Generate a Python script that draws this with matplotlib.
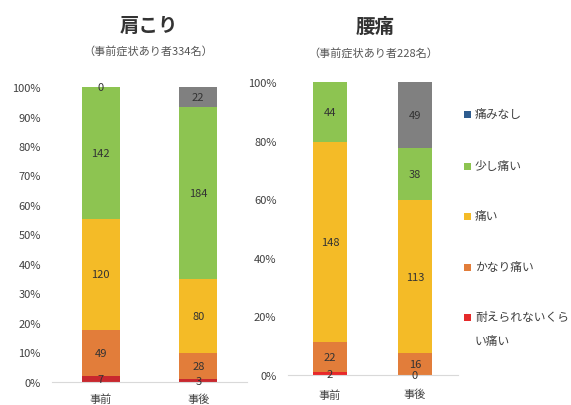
import matplotlib
matplotlib.use("Agg")
import matplotlib.pyplot as plt
from matplotlib.patches import Rectangle
import numpy as np

plt.rcParams['font.family'] = ['Noto Sans CJK JP', 'DejaVu Sans']

# Pain levels, bottom to top of each stacked bar
levels = ['耐えられないくらい痛い', 'かなり痛い', '痛い', '少し痛い', '痛みなし']
timing = ['事前', '事後']

# Shoulder stiffness counts (事前, 事後) per level
katakori = {
    '耐えられないくらい痛い': [7, 3],
    'かなり痛い': [49, 28],
    '痛い': [120, 80],
    '少し痛い': [142, 184],
    '痛みなし': [0, 22],
}
# Lower back pain counts (事前, 事後) per level
youtsuu = {
    '耐えられないくらい痛い': [2, 0],
    'かなり痛い': [22, 16],
    '痛い': [148, 113],
    '少し痛い': [44, 38],
    '痛みなし': [0, 49],
}
youtsuu_hidden = {('痛みなし', 0)}  # zero segment left unlabeled

titles = ['肩こり', '腰痛']
subtitles = ['（事前症状あり者334名）', '（事前症状あり者228名）']

bar_colors = {
    '耐えられないくらい痛い': '#E8282A',
    'かなり痛い': '#E27D3A',
    '痛い': '#F4BB27',
    '少し痛い': '#8DC451',
    '痛みなし': '#808080',
}
legend_colors = {
    '痛みなし': '#2E5C8F',
    '少し痛い': '#8DC451',
    '痛い': '#F4BB27',
    'かなり痛い': '#E27D3A',
    '耐えられないくらい痛い': '#E52A2A',
}

W, H = 571, 406
fig = plt.figure(figsize=(W / 100, H / 100), dpi=100)


def px_axes(x0, x1, y0, y1):
    return fig.add_axes([x0 / W, 1 - y0 / H, (x1 - x0) / W, (y0 - y1) / H])


def draw_stack(ax, data, width, yticks, red, hidden=(), xpad=10):
    x = np.arange(len(timing))
    totals = np.sum([data[l] for l in levels], axis=0).astype(float)
    bottom = np.zeros(len(timing))
    for lv in levels:
        vals = np.array(data[lv], dtype=float)
        frac = vals / totals
        col = red if lv == levels[0] else bar_colors[lv]
        bars = ax.bar(x, frac, width, bottom=bottom, color=col, linewidth=0)
        labels = ['' if (lv, i) in hidden else f'{int(v)}' for i, v in enumerate(vals)]
        ax.bar_label(bars, labels=labels, label_type='center', fontsize=8,
                     color='#333333')
        bottom += frac
    ax.set_xlim(-0.5, 1.5)
    ax.set_ylim(0, 1)
    ax.set_yticks(yticks)
    ax.set_yticklabels([f'{int(round(t * 100))}%' for t in yticks])
    ax.set_xticks(x)
    ax.set_xticklabels(timing)
    for s in ['top', 'right', 'left']:
        ax.spines[s].set_visible(False)
    ax.spines['bottom'].set_color('#d9d9d9')
    ax.spines['bottom'].set_linewidth(0.8)
    ax.tick_params(length=0, labelsize=8, colors='#404040')
    ax.tick_params(axis='y', pad=8)
    ax.tick_params(axis='x', pad=xpad)


ax1 = px_axes(52, 247, 383, 88)
draw_stack(ax1, katakori, 0.39, np.arange(0, 1.01, 0.1), '#C8282E', xpad=8)

ax2 = px_axes(287.5, 457.5, 376, 83)
draw_stack(ax2, youtsuu, 0.40, np.arange(0, 1.01, 0.2), '#E8282A', youtsuu_hidden,
           xpad=10)

fig.text(149 / W, 1 - 27 / H, titles[0], ha='center', va='center', fontsize=14,
         fontweight='bold', color='#333333')
fig.text(148 / W, 1 - 51 / H, subtitles[0], ha='center', va='center', fontsize=8,
         color='#555555')
fig.text(375 / W, 1 - 27 / H, titles[1], ha='center', va='center', fontsize=14,
         fontweight='bold', color='#333333')
fig.text(373 / W, 1 - 53 / H, subtitles[1], ha='center', va='center', fontsize=8,
         color='#555555')

# Legend, listed top to bottom
legend_items = ['痛みなし', '少し痛い', '痛い', 'かなり痛い', '耐えられないくらい痛い']
legend_text = {'耐えられないくらい痛い': '耐えられないくら\nい痛い'}
legend_y = [115, 167, 217, 268, 318]
for name, yy in zip(legend_items, legend_y):
    fig.patches.append(Rectangle((464 / W, 1 - (yy + 3.5) / H), 7 / W, 7 / H,
                                 transform=fig.transFigure, color=legend_colors[name],
                                 linewidth=0))
    fig.text(475 / W, 1 - (yy - 7) / H, legend_text.get(name, name), ha='left',
             va='top', fontsize=8.5, color='#404040', linespacing=2.1)

fig.savefig('out.png', dpi=100)
